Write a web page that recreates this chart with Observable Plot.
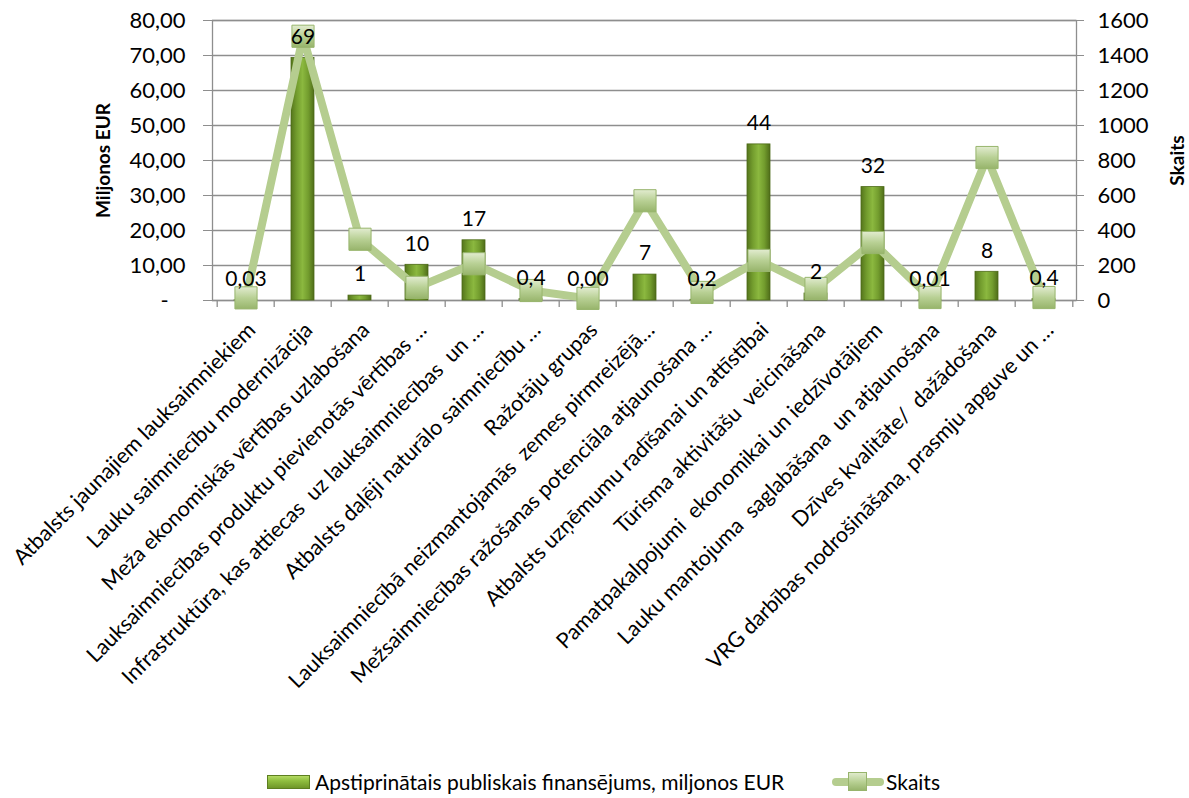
<!DOCTYPE html>
<html>
<head>
<meta charset="utf-8">
<script src="https://cdn.jsdelivr.net/npm/d3@7"></script>
<script src="https://cdn.jsdelivr.net/npm/@observablehq/plot@0.6"></script>
<style>
  body { margin: 0; background: #fff; font-family: Lato, sans-serif; }
  #legend { position: relative; height: 33px; font-size: 21px; color: #000; }
  #legend .item { position: absolute; top: 0; height: 33px; display: flex; align-items: center; white-space: nowrap; }
  #legend .barsw { width: 43px; height: 14px; margin-right: 5px; border: 1px solid #5d7f20;
    background: linear-gradient(to bottom, #b4da63 0%, #8fbe3f 40%, #6f9628 100%); box-sizing: border-box; }
  #legend .linesw { position: relative; width: 52px; height: 22px; margin-right: 2px; }
  #legend .linesw .ln { position: absolute; left: 0; right: 0; top: 7px; height: 8px; border-radius: 4px; background: #b5cd8f; }
  #legend .linesw .mk { position: absolute; left: 16px; top: 1px; width: 19px; height: 19px; box-sizing: border-box;
    border: 1px solid #97b46c; background: linear-gradient(to bottom, #dfeacb 0%, #b6cf91 55%, #98b56d 100%); }
</style>
</head>
<body>
<div id="chart"></div>
<div id="legend">
  <div class="item" style="left:267px"><span class="barsw"></span><span id="lg1"></span></div>
  <div class="item" style="left:832px"><span class="linesw"><span class="ln"></span><span class="mk"></span></span><span id="lg2"></span></div>
</div>
<script>
const categories = [
  "Atbalsts jaunajiem lauksaimniekiem",
  "Lauku saimniecību modernizācija",
  "Meža ekonomiskās vērtības uzlabošana",
  "Lauksaimniecības produktu pievienotās vērtības …",
  "Infrastruktūra, kas attiecas  uz lauksaimniecības  un …",
  "Atbalsts daļēji naturālo saimniecību …",
  "Ražotāju grupas",
  "Lauksaimniecībā neizmantojamās  zemes pirmreizējā…",
  "Mežsaimniecības ražošanas potenciāla atjaunošana …",
  "Atbalsts uzņēmumu radīšanai un attīstībai",
  "Tūrisma aktivitāšu  veicināšana",
  "Pamatpakalpojumi  ekonomikai un iedzīvotājiem",
  "Lauku mantojuma  saglabāšana  un atjaunošana",
  "Dzīves kvalitāte/  dažādošana",
  "VRG darbības nodrošināšana, prasmju apguve un …"
];
const funding = [0.03, 69.3, 1.4, 10.2, 17.2, 0.4, 0.0, 7.4, 0.2, 44.6, 2.0, 32.4, 0.01, 8.2, 0.4];
const fundingLabels = ["0,03", "69", "1", "10", "17", "0,4", "0,00", "7", "0,2", "44", "2", "32", "0,01", "8", "0,4"];
const counts = [15, 1510, 350, 75, 210, 57, 12, 570, 46, 229, 69, 331, 17, 817, 17];
const leftTicks = [0, 10, 20, 30, 40, 50, 60, 70, 80];
const rightTicks = [0, 200, 400, 600, 800, 1000, 1200, 1400, 1600];
const seriesNames = ["Apstiprinātais publiskais finansējums, miljonos EUR", "Skaits"];
const axisTitles = ["Miljonos EUR", "Skaits"];

const countToLeft = 80 / 1600; // right axis mapped onto left domain
const data = categories.map((c, i) => ({
  cat: c, funding: funding[i], label: fundingLabels[i], count: counts[i] * countToLeft
}));

const W = 1189, H = 765, ML = 212, MR = 113, MT = 20, MB = 465;
const step = (W - ML - MR) / categories.length;
const grid = "#8e8e8e";
const fmtLeft = d => d === 0 ? "-\u00a0\u00a0\u00a0" : d.toFixed(2).replace(".", ",");

const plot = Plot.plot({
  width: W, height: H,
  marginLeft: ML, marginRight: MR, marginTop: MT, marginBottom: MB,
  style: { fontFamily: "Lato, sans-serif", color: "#000", background: "#fff", overflow: "visible" },
  x: { domain: categories, paddingInner: 0.6, paddingOuter: 0.3, axis: null },
  y: { domain: [0, 80], axis: null },
  marks: [
    Plot.gridY(leftTicks, { stroke: grid, strokeOpacity: 1, strokeWidth: 1.3 }),
    Plot.frame({ stroke: grid, strokeWidth: 1.3 }),
    Plot.ruleX(categories, { x: d => d, y1: 0, y2: -2, dx: -step / 2, stroke: grid, strokeWidth: 1.3 }),
    Plot.ruleX(categories.slice(-1), { x: d => d, y1: 0, y2: -2, dx: step / 2, stroke: grid, strokeWidth: 1.3 }),
    Plot.axisY(leftTicks, { anchor: "left", tickSize: 9, tickPadding: 18, fontSize: 22, stroke: grid, fill: "#000", tickFormat: fmtLeft, label: null }),
    Plot.axisY(rightTicks.map(d => d * countToLeft), { anchor: "right", tickSize: 7, tickPadding: 14, fontSize: 22, stroke: grid, fill: "#000", tickFormat: d => String(Math.round(d / countToLeft)), label: null }),
    Plot.axisX({ anchor: "bottom", tickSize: 0, tickPadding: 26, dx: 6, tickRotate: -45, fontSize: 21.5, fill: "#000", label: null }),
    Plot.barY(data, { x: "cat", y: "funding", fill: "url(#barGrad)", stroke: "#4d6a17", strokeWidth: 0.8 }),
    Plot.line(data, { x: "cat", y: "count", stroke: "#b5cd8f", strokeWidth: 8, strokeLinejoin: "miter" }),
    Plot.dot(data, { x: "cat", y: "count", symbol: "square", r: 12.5, fill: "url(#markGrad)", stroke: "#98b56d", strokeWidth: 1 }),
    Plot.text(data, { x: "cat", y: "funding", text: "label", dy: -21, fontSize: 21, fill: "#000" }),
    Plot.text([axisTitles[0]], { frameAnchor: "left", dx: -109, rotate: -90, textAnchor: "middle", lineAnchor: "middle", fontSize: 19, fontWeight: "bold", fill: "#000" }),
    Plot.text([axisTitles[1]], { frameAnchor: "right", dx: 101, rotate: -90, textAnchor: "middle", lineAnchor: "middle", fontSize: 19, fontWeight: "bold", fill: "#000" })
  ]
});

const defs = d3.select(plot).insert("defs", ":first-child");
const bg = defs.append("linearGradient").attr("id", "barGrad").attr("x1", 0).attr("x2", 1).attr("y1", 0).attr("y2", 0);
[[0, "#55751c"], [0.25, "#739d2e"], [0.5, "#8bb83f"], [0.75, "#739d2e"], [1, "#4f6d19"]]
  .forEach(([o, c]) => bg.append("stop").attr("offset", o).attr("stop-color", c));
const mg = defs.append("linearGradient").attr("id", "markGrad").attr("x1", 0).attr("x2", 0).attr("y1", 0).attr("y2", 1);
[[0, "#e2ecd0"], [0.5, "#b8d094"], [1, "#97b46b"]]
  .forEach(([o, c]) => mg.append("stop").attr("offset", o).attr("stop-color", c));

document.getElementById("chart").appendChild(plot);
document.getElementById("lg1").textContent = seriesNames[0];
document.getElementById("lg2").textContent = seriesNames[1];
</script>
</body>
</html>
